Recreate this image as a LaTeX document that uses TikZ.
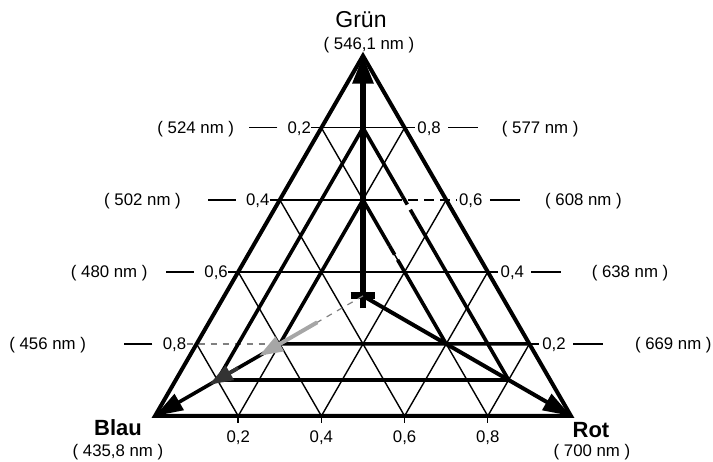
\documentclass[tikz,border=0pt]{standalone}
\usepackage{fontspec}
\setmainfont{Liberation Sans}
\usetikzlibrary{arrows.meta,positioning,calc}

\begin{document}
\begin{tikzpicture}[x=41.6pt,y=41.6pt,
    gridline/.style={line width=0.7pt},
    frame/.style={line width=2pt},
    subtri/.style={line width=1.8pt},
    gapped/.style={dash pattern=on 5pt off 3pt},
    vec/.style={line width=2pt, -{Triangle[length=14pt,width=9pt]}},
    lbl/.style={font=\fontsize{8.4}{10}\selectfont, inner sep=0pt, text height=6pt, text depth=0pt},
    corner/.style={font=\fontsize{11}{13}\selectfont\bfseries, inner sep=0pt, text height=8pt, text depth=0pt}]
    \useasboundingbox (-1.863,-0.553) rectangle (6.707,5.0);

    % Corners and centre
    \coordinate (B) at (0,0);
    \coordinate (R) at (5,0);
    \coordinate (G) at (2.5,4.3301);
    \coordinate (C) at (2.5,1.4434);

    % Inner triangles (0.7 and 0.4 of the outer one, round C)
    \coordinate (t1b) at ($(C)!0.7!(B)$);
    \coordinate (t1r) at ($(C)!0.7!(R)$);
    \coordinate (t1g) at ($(C)!0.7!(G)$);
    \coordinate (t2b) at ($(C)!0.4!(B)$);
    \coordinate (t2r) at ($(C)!0.4!(R)$);
    \coordinate (t2g) at ($(C)!0.4!(G)$);
    \coordinate (t2s) at (4.5,0.866);

    % Thin grid
    \foreach \k in {1,...,4} {
        \draw[gridline] (\k,0) -- ({\k+(5-\k)*0.5},{(5-\k)*0.866});
        \draw[gridline] (\k,0) -- ({\k*0.5},{\k*0.866});
        \draw[gridline] (\k,0) -- (\k,-0.09);
    }
    \draw[gridline, gray, dashed] (0.38,0.866) -- (1.5,0.866);
    \draw[gridline] (1.5,0.866) -- (4.62,0.866);
    \draw[gridline] (0.88,1.732) -- (4.12,1.732);
    \draw[gridline] (1.38,2.598) -- (2.85,2.598);
    \draw[gridline, gapped] (2.85,2.598) -- (3.62,2.598);
    \draw[gridline] (1.88,3.464) -- (3.12,3.464);

    % Outer triangle
    \draw[frame] (B) -- (R) -- (G) -- cycle;

    % Inner triangles
    \draw[subtri] ($(t1g)!0.27!(t1r)$) -- (t1g) -- (t1b) -- (t1r) -- ($(t1g)!0.35!(t1r)$);
    \draw[subtri, gapped] ($(t1g)!0.27!(t1r)$) -- ($(t1g)!0.35!(t1r)$);
    \draw[subtri] ($(t2g)!0.32!(t2r)$) -- (t2g) -- (t2b) -- (t2s);
    \draw[subtri] (t2r) -- ($(t2g)!0.42!(t2r)$);
    \draw[subtri, gapped] ($(t2g)!0.32!(t2r)$) -- ($(t2g)!0.42!(t2r)$);

    % Vectors from the centre
    \draw[vec, line width=3pt, -{Triangle[length=14pt,width=10pt]}] ($(C)+(0,-0.15)$) -- (G);
    \draw[line width=3.5pt] ($(C)+(-0.15,0)$) -- ($(C)+(0.15,0)$);
    \draw[vec] (C) -- (R);
    \draw[vec, line width=1.8pt] (t2b) -- (B);
    \draw[gray, line width=0.6pt, dashed] (C) -- ($(C)!0.22!(B)$);
    \draw[gray!70, line width=2pt, -{Triangle[length=12pt,width=8pt]}] ($(C)!0.22!(B)$) -- ($(C)!0.5!(B)$);
    \draw[gray!40!black, line width=1.8pt, -{Triangle[length=12pt,width=8pt]}] ($(C)!0.6!(B)$) -- ($(C)!0.74!(B)$);

    % Scales on the sides
    \foreach \k/\lnum/\lpos/\lnm/\rnum/\rpos/\rnm in {
        1/{0,8}/-1.29/456/{0,2}/6.23/669,
        2/{0,6}/-0.55/480/{0,4}/5.71/638,
        3/{0,4}/-0.15/502/{0,6}/5.15/608,
        4/{0,2}/0.49/524/{0,8}/4.63/577} {
        \node[lbl, anchor=east] (ln\k) at ({\k*0.5-0.12},{\k*0.866}) {\lnum};
        \draw[gridline] ([xshift=-5pt]ln\k.west) -- ++(-14pt,0);
        \node[lbl] (lw\k) at (\lpos,{\k*0.866}) {( \lnm\ nm )};
        \node[lbl, anchor=west] (rn\k) at ({5-\k*0.5+0.15},{\k*0.866}) {\rnum};
        \draw[gridline] ([xshift=3.5pt]rn\k.east) -- ++(15pt,0);
        \node[lbl] (rw\k) at (\rpos,{\k*0.866}) {( \rnm\ nm )};
    }
    \foreach \k/\v in {1/{0,2},2/{0,4},3/{0,6},4/{0,8}}
        \node[lbl] (bn\k) at (\k,-0.25) {\v};

    % Names of the corners
    \node[corner, font=\fontsize{11.5}{13}\selectfont] (gr) at (2.476,4.76) {Grün};
    \node[lbl] (grnm) at (2.572,4.483) {( 546,1 nm )};
    \node[corner] (bl) at (-0.445,-0.144) {Blau};
    \node[lbl] (blnm) at (-0.445,-0.409) {( 435,8 nm )};
    \node[corner] (rt) at (5.24,-0.168) {Rot};
    \node[lbl] (rtnm) at (5.252,-0.409) {( 700 nm )};
\end{tikzpicture}
\end{document}
